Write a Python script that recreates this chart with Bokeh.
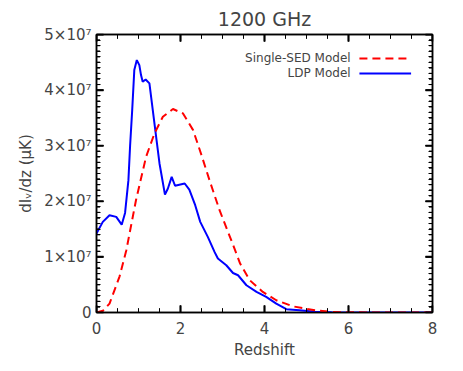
from bokeh.plotting import figure
from bokeh.models import (LinearAxis, FixedTicker, CustomJSTickFormatter, Range1d,
                          Label, Arrow, ColumnDataSource)
from bokeh.embed import file_html
from bokeh.resources import INLINE

# ---- data ----
z_ldp = [0.00, 0.15, 0.31, 0.47, 0.60, 0.68, 0.76, 0.80, 0.85, 0.90, 0.96, 1.02,
         1.06, 1.10, 1.17, 1.26, 1.34, 1.42, 1.50, 1.63, 1.70, 1.79, 1.87, 2.10,
         2.21, 2.35, 2.47, 2.65, 2.81, 2.89, 3.09, 3.25, 3.37, 3.57, 3.81, 4.04,
         4.28, 4.52, 4.83, 5.20, 5.60, 6.00, 7.00, 8.00]
v_ldp = [14.2e6, 16.3e6, 17.5e6, 17.2e6, 15.8e6, 17.9e6, 23.8e6, 30.0e6, 36.4e6,
         43.6e6, 45.4e6, 44.5e6, 42.7e6, 41.5e6, 41.9e6, 41.2e6, 36.4e6, 31.6e6,
         26.8e6, 21.2e6, 22.3e6, 24.4e6, 22.8e6, 23.2e6, 22.1e6, 19.3e6, 16.3e6,
         13.6e6, 10.9e6, 9.7e6, 8.5e6, 7.1e6, 6.7e6, 4.9e6, 3.7e6, 2.8e6, 1.6e6,
         0.6e6, 0.4e6, 0.15e6, 0.05e6, 0.02e6, 0.0, 0.0]

z_sed = [0.00, 0.15, 0.31, 0.55, 0.71, 0.94, 1.18, 1.38, 1.58, 1.82, 2.06, 2.30,
         2.50, 2.69, 2.93, 3.27, 3.42, 3.65, 3.96, 4.28, 4.68, 5.20, 5.60, 6.00,
         7.00, 8.00]
v_sed = [0.0, 0.3e6, 1.6e6, 6.5e6, 11.2e6, 20.2e6, 28.0e6, 32.2e6, 35.2e6, 36.6e6,
         35.8e6, 32.8e6, 28.3e6, 23.8e6, 18.4e6, 11.8e6, 8.8e6, 5.8e6, 3.7e6,
         2.2e6, 1.1e6, 0.4e6, 0.1e6, 0.03e6, 0.0, 0.0]

x_ticks = [0, 2, 4, 6, 8]
x_minor = [0.5, 1, 1.5, 2.5, 3, 3.5, 4.5, 5, 5.5, 6.5, 7, 7.5]
y_ticks = [0, 1e7, 2e7, 3e7, 4e7, 5e7]
y_minor = [i * 1e6 for i in range(51) if i % 10]
title_text = "1200 GHz"
x_label = "Redshift"
y_label = "dI\u1d65/dz (\u03bcK)"
legend_labels = ["Single-SED Model", "LDP Model"]

FONT = "DejaVu Sans"
X0, X1, Y0, Y1 = 0, 8, 0, 5e7
FW, FH = 336, 278

p = figure(frame_width=FW, frame_height=FH, output_backend="svg",
           toolbar_location=None, x_range=Range1d(X0, X1), y_range=Range1d(Y0, Y1),
           min_border_left=96, min_border_right=20, min_border_top=20,
           min_border_bottom=50, title=title_text)

p.title.align = "center"
p.title.text_font = FONT
p.title.text_font_size = "19px"
p.title.text_font_style = "normal"
p.title.offset = 0

p.grid.visible = False
p.outline_line_color = "black"
p.outline_line_width = 1.5

def px_x(n):
    return (X1 - X0) * n / FW

def px_y(n):
    return (Y1 - Y0) * n / FH

# inward tick marks (drawn first, before any dashed stroke)
tk = dict(line_color="black")
for xs, L, w in ((x_ticks, 7, 1.5), (x_minor, 4, 1.0)):
    p.segment(x0=xs, y0=[Y0] * len(xs), x1=xs, y1=[Y0 + px_y(L)] * len(xs), line_width=w, **tk)
    p.segment(x0=xs, y0=[Y1] * len(xs), x1=xs, y1=[Y1 - px_y(L)] * len(xs), line_width=w, **tk)
for ys, L, w in ((y_ticks, 7, 1.5), (y_minor, 3.5, 1.0)):
    p.segment(x0=[X0] * len(ys), y0=ys, x1=[X0 + px_x(L)] * len(ys), y1=ys, line_width=w, **tk)
    p.segment(x0=[X1] * len(ys), y0=ys, x1=[X1 - px_x(L)] * len(ys), y1=ys, line_width=w, **tk)

src_sed = ColumnDataSource(dict(z=z_sed, v=v_sed))
src_ldp = ColumnDataSource(dict(z=z_ldp, v=v_ldp))
p.line("z", "v", source=src_ldp, line_color="#0000ff", line_width=2)
p.line("z", "v", source=src_sed, line_color="#ff0000", line_width=2, line_dash="8 5")

xt = FixedTicker(ticks=x_ticks, minor_ticks=x_minor)
yt = FixedTicker(ticks=y_ticks, minor_ticks=y_minor)
yfmt = CustomJSTickFormatter(code="""
if (tick == 0) { return '0'; }
return (tick/1e7).toFixed(0) + '\u00d710\u2077';
""")
blank = CustomJSTickFormatter(code="return '';")

def style(ax, labels=True):
    ax.major_tick_in = 7
    ax.major_tick_out = 0
    ax.minor_tick_in = 4
    ax.minor_tick_out = 0
    ax.major_tick_line_width = 1.5
    ax.minor_tick_line_width = 1
    ax.axis_line_width = 1.5
    ax.major_label_text_font = FONT
    ax.major_label_text_font_size = "15px"
    ax.axis_label_text_font = FONT
    ax.axis_label_text_font_size = "15px"
    ax.axis_label_text_font_style = "normal"
    if not labels:
        ax.formatter = blank
        ax.major_label_standoff = 0

xa = p.xaxis[0]
xa.ticker = xt
xa.axis_label = x_label
style(xa)
xa.major_label_standoff = 9
xa.axis_label_standoff = 4

ya = p.yaxis[0]
ya.ticker = yt
ya.formatter = yfmt
ya.axis_label = y_label
style(ya)
ya.major_label_standoff = 5
ya.axis_label_standoff = 6

top = LinearAxis(ticker=xt)
style(top, labels=False)
p.add_layout(top, "above")
right = LinearAxis(ticker=yt)
style(right, labels=False)
p.add_layout(right, "right")

# tick marks again as annotations (same positions), in case glyph ticks are hidden
for xs, L, w in ((x_ticks, 7, 1.5), (x_minor, 4, 1.0)):
    for x in xs:
        p.add_layout(Arrow(end=None, x_start=x, y_start=Y0, x_end=x, y_end=Y0 + px_y(L),
                           line_width=w, line_color="black", line_dash="solid"))
        p.add_layout(Arrow(end=None, x_start=x, y_start=Y1, x_end=x, y_end=Y1 - px_y(L),
                           line_width=w, line_color="black", line_dash="solid"))
for ys, L, w in ((y_ticks, 7, 1.5), (y_minor, 3.5, 1.0)):
    for y in ys:
        p.add_layout(Arrow(end=None, x_start=X0, y_start=y, x_end=X0 + px_x(L), y_end=y,
                           line_width=w, line_color="black", line_dash="solid"))
        p.add_layout(Arrow(end=None, x_start=X1, y_start=y, x_end=X1 - px_x(L), y_end=y,
                           line_width=w, line_color="black", line_dash="solid"))

# legend (text on the left, line sample on the right, like the original)
leg_y = [45.7e6, 43.0e6]
styles = [dict(line_color="#0000ff", line_dash="solid"), dict(line_color="#ff0000", line_dash="8 5")]
order = [1, 0]
for i in order:
    lab, yy = legend_labels[i], leg_y[i]
    st = styles[0] if i == 1 else styles[1]
    p.add_layout(Label(x=6.05, y=yy, text=lab, text_align="right", text_baseline="middle",
                       text_font=FONT, text_font_size="12px"))
    p.add_layout(Arrow(end=None, x_start=6.26, y_start=yy, x_end=7.49, y_end=yy,
                       line_width=2, **st))

open("out.html", "w").write(file_html(p, INLINE))
